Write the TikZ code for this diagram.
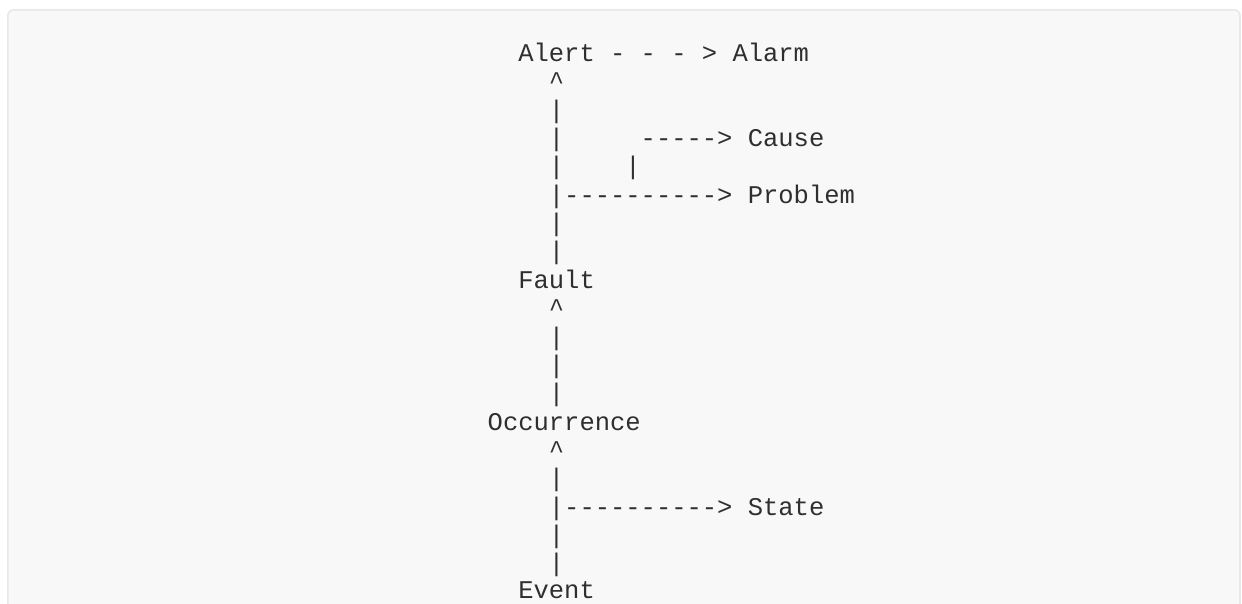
\documentclass[tikz,border=0pt]{standalone}
\usepackage{fontspec}
\setmonofont{Liberation Mono}
\definecolor{pagebg}{HTML}{FFFFFF}
\definecolor{boxfill}{HTML}{F8F8F8}
\definecolor{boxline}{HTML}{E8E8E8}
\definecolor{ink}{HTML}{2F2F2F}
\tikzset{
  asc/.style={anchor=base west, inner sep=0pt, outer sep=0pt, text=ink,
              font=\ttfamily\fontsize{25.5pt}{28pt}\selectfont},
}
\newcommand{\cw}{15.3}
\newcommand{\rh}{28.35}
\newcommand{\xo}{426.5}
\newcommand{\yo}{61.5}
\begin{document}
\begin{tikzpicture}[x=1pt,y=-1pt]
\useasboundingbox (0,0) rectangle (1242,603);
\fill[pagebg] (0,0) rectangle (1242,603);
\draw[boxline, fill=boxfill, line width=1.6pt, rounded corners=6pt]
  (7.8,9.8) rectangle (1240,640);
% rows of the ASCII diagram
\node[asc] (r0)  at ({\xo+6*\cw},{\yo+0*\rh})  {Alert - - - > Alarm};
\node[asc] (r1)  at ({\xo+8*\cw},{\yo+1*\rh})  {\textasciicircum};
\node[asc] (r2)  at ({\xo+8*\cw},{\yo+2*\rh})  {|};
\node[asc] (r3a) at ({\xo+8*\cw},{\yo+3*\rh})  {|};
\node[asc] (r3b) at ({\xo+14*\cw},{\yo+3*\rh}) {-----> Cause};
\node[asc] (r4a) at ({\xo+8*\cw},{\yo+4*\rh})  {|};
\node[asc] (r4b) at ({\xo+13*\cw},{\yo+4*\rh}) {|};
\node[asc] (r5)  at ({\xo+8*\cw},{\yo+5*\rh})  {|----------> Problem};
\node[asc] (r6)  at ({\xo+8*\cw},{\yo+6*\rh})  {|};
\node[asc] (r7)  at ({\xo+8*\cw},{\yo+7*\rh})  {|};
\node[asc] (r8)  at ({\xo+6*\cw},{\yo+8*\rh})  {Fault};
\node[asc] (r9)  at ({\xo+8*\cw},{\yo+9*\rh})  {\textasciicircum};
\node[asc] (r10) at ({\xo+8*\cw},{\yo+10*\rh}) {|};
\node[asc] (r11) at ({\xo+8*\cw},{\yo+11*\rh}) {|};
\node[asc] (r12) at ({\xo+8*\cw},{\yo+12*\rh}) {|};
\node[asc] (r13) at ({\xo+4*\cw},{\yo+13*\rh}) {Occurrence};
\node[asc] (r14) at ({\xo+8*\cw},{\yo+14*\rh}) {\textasciicircum};
\node[asc] (r15) at ({\xo+8*\cw},{\yo+15*\rh}) {|};
\node[asc] (r16) at ({\xo+8*\cw},{\yo+16*\rh}) {|----------> State};
\node[asc] (r17) at ({\xo+8*\cw},{\yo+17*\rh}) {|};
\node[asc] (r18) at ({\xo+8*\cw},{\yo+18*\rh}) {|};
\node[asc] (r19) at ({\xo+6*\cw},{\yo+19*\rh-1.5}) {Event};
\end{tikzpicture}
\end{document}
